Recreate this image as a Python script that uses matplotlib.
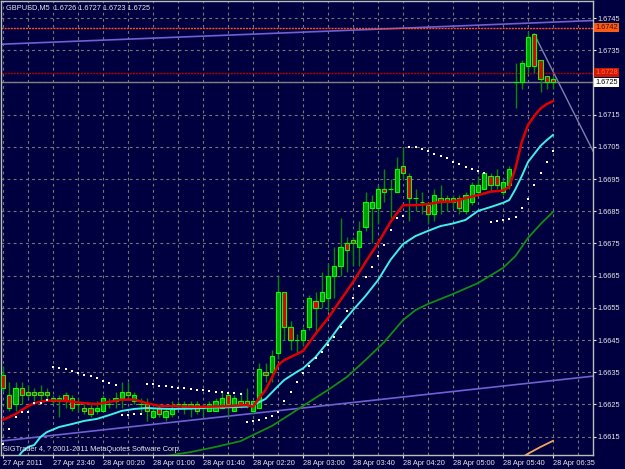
#!/usr/bin/env python3

import matplotlib
matplotlib.use('Agg')
import matplotlib.pyplot as plt
import numpy as np

# GBPUSD M5 bars (index 0 = 27 Apr 23:00)
opens = [1.6634, 1.6628, 1.6625, 1.6630, 1.6629, 1.6629, 1.6629, 1.6629, 1.6627, 1.6626,
         1.6628, 1.6627, 1.6625, 1.6624, 1.6624, 1.6623, 1.6623, 1.6625, 1.6626, 1.6627,
         1.6629, 1.6626, 1.6625, 1.6625, 1.6621, 1.6624, 1.6621, 1.6622, 1.6625, 1.6624,
         1.6625, 1.6625, 1.6624, 1.6623, 1.6623, 1.6624, 1.6628, 1.6623, 1.6626, 1.6626,
         1.6623, 1.6624, 1.6635, 1.6635, 1.6641, 1.6660, 1.6649, 1.6645, 1.6645, 1.6649,
         1.6657, 1.6657, 1.6658, 1.6665, 1.6668, 1.6675, 1.6676, 1.6674, 1.6680, 1.6686,
         1.6686, 1.6692, 1.6692, 1.6691, 1.6699, 1.6696, 1.6689, 1.6688, 1.6687, 1.6684,
         1.6689, 1.6689, 1.6689, 1.6689, 1.6685, 1.6688, 1.6691, 1.6692, 1.6696, 1.6696,
         1.6691, 1.6693, 1.6725, 1.6725, 1.6730, 1.6740, 1.6732, 1.6727, 1.6726]
highs = [1.6637, 1.6632, 1.6632, 1.6632, 1.6631, 1.6630, 1.6631, 1.6630, 1.6628, 1.6628,
         1.6629, 1.6628, 1.6627, 1.6625, 1.6625, 1.6626, 1.6628, 1.6627, 1.6629, 1.6632,
         1.6632, 1.6629, 1.6627, 1.6627, 1.6624, 1.6625, 1.6624, 1.6626, 1.6626, 1.6626,
         1.6626, 1.6626, 1.6625, 1.6626, 1.6627, 1.6629, 1.6629, 1.6628, 1.6629, 1.6630,
         1.6626, 1.6638, 1.6638, 1.6642, 1.6665, 1.6660, 1.6651, 1.6647, 1.6649, 1.6659,
         1.6660, 1.6666, 1.6669, 1.6674, 1.6683, 1.6677, 1.6677, 1.6682, 1.6691, 1.6690,
         1.6693, 1.6698, 1.6695, 1.6702, 1.6705, 1.6697, 1.6692, 1.6691, 1.6688, 1.6692,
         1.6693, 1.6690, 1.6690, 1.6690, 1.6691, 1.6694, 1.6696, 1.6697, 1.6697, 1.6698,
         1.6695, 1.6699, 1.6731, 1.6732, 1.6741, 1.6740, 1.6732, 1.6727, 1.6727]
lows = [1.6629, 1.6623, 1.6623, 1.6625, 1.6627, 1.6626, 1.6625, 1.6626, 1.6625, 1.6621,
        1.6624, 1.6623, 1.6623, 1.6622, 1.6621, 1.6622, 1.6623, 1.6624, 1.6624, 1.6624,
        1.6627, 1.6625, 1.6622, 1.6620, 1.6621, 1.6621, 1.6620, 1.6621, 1.6624, 1.6622,
        1.6621, 1.6622, 1.6621, 1.6623, 1.6623, 1.6624, 1.6621, 1.6623, 1.6624, 1.6624,
        1.6622, 1.6624, 1.6632, 1.6632, 1.6639, 1.6645, 1.6642, 1.6641, 1.6643, 1.6648,
        1.6647, 1.6655, 1.6654, 1.6658, 1.6665, 1.6666, 1.6668, 1.6668, 1.6679, 1.6675,
        1.6681, 1.6688, 1.6683, 1.6691, 1.6695, 1.6682, 1.6685, 1.6684, 1.6681, 1.6682,
        1.6684, 1.6685, 1.6686, 1.6684, 1.6684, 1.6687, 1.6690, 1.6692, 1.6691, 1.6692,
        1.6690, 1.6692, 1.6717, 1.6723, 1.6728, 1.6728, 1.6722, 1.6723, 1.6723]
closes = [1.6630, 1.6624, 1.6630, 1.6628, 1.6628, 1.6628, 1.6628, 1.6628, 1.6626, 1.6627,
          1.6626, 1.6624, 1.6625, 1.6623, 1.6622, 1.6624, 1.6627, 1.6625, 1.6627, 1.6629,
          1.6628, 1.6628, 1.6625, 1.6623, 1.6623, 1.6622, 1.6623, 1.6624, 1.6625, 1.6625,
          1.6624, 1.6623, 1.6624, 1.6625, 1.6626, 1.6627, 1.6625, 1.6627, 1.6625, 1.6625,
          1.6626, 1.6636, 1.6634, 1.6640, 1.6660, 1.6649, 1.6645, 1.6645, 1.6648, 1.6658,
          1.6655, 1.6660, 1.6665, 1.6668, 1.6674, 1.6673, 1.6675, 1.6679, 1.6688, 1.6688,
          1.6692, 1.6691, 1.6692, 1.6698, 1.6697, 1.6689, 1.6689, 1.6688, 1.6684, 1.6690,
          1.6688, 1.6688, 1.6688, 1.6686, 1.6690, 1.6693, 1.6693, 1.6697, 1.6693, 1.6693,
          1.6694, 1.6698, 1.6725, 1.6731, 1.6739, 1.6730, 1.6726, 1.6725, 1.6725]

# parabolic SAR, one dot per bar
sar = [1.66127, 1.66175, 1.66212, 1.66226, 1.66228, 1.66254, 1.66256, 1.66265, 1.66365, 1.66362,
       1.66359, 1.66354, 1.66349, 1.66343, 1.66338, 1.66331, 1.66324, 1.66317, 1.66310, 1.66217,
       1.66217, 1.66219, 1.66220, 1.66315, 1.66312, 1.66308, 1.66306, 1.66303, 1.66302, 1.66300,
       1.66298, 1.66296, 1.66294, 1.66292, 1.66290, 1.66288, 1.66286, 1.66285, 1.66284, 1.66195,
       1.66199, 1.66202, 1.66207, 1.66215, 1.66226, 1.66261, 1.66290, 1.66319, 1.66349, 1.66369,
       1.66393, 1.66412, 1.66435, 1.66458, 1.66490, 1.66540, 1.66581, 1.66618, 1.66647, 1.66676,
       1.66712, 1.66745, 1.66792, 1.66828, 1.66835, 1.67049, 1.67049, 1.67042, 1.67037, 1.67028,
       1.67022, 1.67014, 1.67004, 1.66996, 1.66988, 1.66981, 1.66976, 1.66970, 1.66817, 1.66820,
       1.66823, 1.66826, 1.66831, 1.66859, 1.66887, 1.66933, 1.66970, 1.67004, 1.67037]

# moving averages, read at selected bars
red_idx = [0, 2, 4, 5, 7, 9, 11, 13, 15, 17, 19, 21, 23, 25, 27, 30, 33, 36, 39, 40,
           41, 42, 43, 44, 45, 46, 48, 50, 52, 54, 56, 58, 60, 62, 64, 66, 68, 70, 72, 74,
           76, 78, 80, 81, 82, 83, 84, 85, 86, 87, 88]
red_ma = [1.66202, 1.66220, 1.66245, 1.66254, 1.66262, 1.66262, 1.66259, 1.66254, 1.66251, 1.66258,
          1.66265, 1.66265, 1.66254, 1.66245, 1.66245, 1.66243, 1.66243, 1.66245, 1.66248, 1.66243,
          1.66270, 1.66295, 1.66332, 1.66372, 1.66388, 1.66397, 1.66416, 1.66469, 1.66518, 1.66574,
          1.66630, 1.66692, 1.66751, 1.66817, 1.66869, 1.66869, 1.66872, 1.66879, 1.66880, 1.66891,
          1.66900, 1.66911, 1.66914, 1.66926, 1.66984, 1.67065, 1.67118, 1.67146, 1.67169, 1.67183,
          1.67192]

cyan_idx = [2, 3, 4, 5, 6, 7, 9, 11, 13, 15, 17, 19, 21, 23, 25, 27, 30, 33, 36, 39,
            40, 42, 44, 45, 47, 48, 50, 52, 54, 56, 58, 60, 62, 64, 66, 68, 70, 72, 74, 76,
            78, 80, 81, 82, 83, 84, 85, 86, 87, 88]
cyan_ma = [1.66075, 1.66102, 1.66118, 1.66124, 1.66149, 1.66164, 1.66180, 1.66189, 1.66199, 1.66205,
           1.66217, 1.66230, 1.66236, 1.66239, 1.66237, 1.66236, 1.66237, 1.66240, 1.66241, 1.66243,
           1.66248, 1.66267, 1.66307, 1.66326, 1.66351, 1.66362, 1.66397, 1.66444, 1.66497, 1.66543,
           1.66587, 1.66636, 1.66699, 1.66748, 1.66773, 1.66789, 1.66804, 1.66812, 1.66823, 1.66851,
           1.66863, 1.66876, 1.66885, 1.66919, 1.66959, 1.67003, 1.67028, 1.67053, 1.67071, 1.67087]

green_idx = [26, 30, 34, 38, 40, 43, 46, 49, 52, 55, 58, 61, 64, 66, 68, 72, 76, 80, 82, 84,
             86, 88]
green_ma = [1.66090, 1.66102, 1.66118, 1.66136, 1.66155, 1.66183, 1.66220, 1.66258, 1.66295, 1.66335,
            1.66388, 1.66444, 1.66512, 1.66543, 1.66562, 1.66593, 1.66627, 1.66674, 1.66711, 1.66767,
            1.66810, 1.66848]

orange_idx = [83, 84, 86, 88]
orange_ma = [1.66085, 1.66097, 1.66118, 1.66137]

# hand drawn objects
upper_trend_idx = [0, 94]
upper_trend = [1.67369, 1.67442]
lower_trend_idx = [0, 94]
lower_trend = [1.66137, 1.66337]
down_line_idx = [85, 95]
down_line = [1.67400, 1.67014]
level_orange = 1.6742
level_red = 1.6728
bid = 1.6725

price_ticks = [1.6745, 1.6735, 1.6725, 1.6715, 1.6705, 1.6695, 1.6685, 1.6675,
               1.6665, 1.6655, 1.6645, 1.6635, 1.6625, 1.6615]
time_ticks = [0, 8, 16, 24, 32, 40, 48, 56, 64, 72, 80, 88]
time_labels = ['27 Apr 2011', '27 Apr 23:40', '28 Apr 00:20', '28 Apr 01:00',
               '28 Apr 01:40', '28 Apr 02:20', '28 Apr 03:00', '28 Apr 03:40',
               '28 Apr 04:20', '28 Apr 05:00', '28 Apr 05:40', '28 Apr 06:35']

BG = '#000040'
FG = '#e6e6e6'
plt.rcParams['font.family'] = ['Liberation Sans', 'DejaVu Sans']

fig = plt.figure(figsize=(6.25, 4.69), dpi=100, facecolor=BG)
ax = fig.add_axes([1 / 625, 14 / 469, 592 / 625, 454 / 469], facecolor=BG)
ax.set_xlim(-0.32, 94.4)
ax.set_ylim(1.66093, 1.67503)

# grid
ax.set_xticks(time_ticks)
ax.set_xticks(np.arange(4, 95, 8), minor=True)
ax.set_yticks(price_ticks)
ax.grid(True, which='both', color='#777777', lw=0.8, ls=(0, (2.5, 3)))
ax.set_axisbelow(True)

# trend lines and levels
ax.axline((upper_trend_idx[0], upper_trend[0]), (upper_trend_idx[1], upper_trend[1]),
          color='#7060d0', lw=1.2, zorder=2)
ax.axline((lower_trend_idx[0], lower_trend[0]), (lower_trend_idx[1], lower_trend[1]),
          color='#7060d0', lw=1.2, zorder=2)
ax.plot(down_line_idx, down_line, color='#8080b0', lw=1.0, zorder=2)
ax.axhline(level_orange, color='#ff5020', lw=1.0, ls=(0, (1.5, 0.7)), zorder=2)
ax.axhline(level_red, color='#b00000', lw=1.0, ls=(0, (1.5, 0.7)), zorder=2)
ax.axhline(bid, color='#808080', lw=1.0, zorder=2)

# candles
x = np.arange(len(opens))
o = np.array(opens)
c = np.array(closes)
up = c >= o
ax.vlines(x, lows, highs, color='#008c00', lw=1.0, zorder=3)
ax.bar(x, np.abs(c - o), bottom=np.minimum(o, c), width=0.68,
       color=np.where(up, '#00a000', '#e00000'), edgecolor='#00ff00', lw=0.8, zorder=4)

# indicators
ax.plot(green_idx, green_ma, color='#108c10', lw=1.3, zorder=5)
ax.plot(orange_idx, orange_ma, color='#f4a460', lw=1.3, zorder=5)
ax.plot(cyan_idx, cyan_ma, color='#40f0e8', lw=1.4, zorder=5)
ax.plot(red_idx, red_ma, color='#e00000', lw=1.8, zorder=6)
ax.plot(x, sar, 's', color='white', ms=1.9, mew=0, zorder=7)

# axes styling
for side in ['left', 'top', 'right', 'bottom']:
    ax.spines[side].set_color('#b8c0b8')
    ax.spines[side].set_linewidth(1.0)
ax.yaxis.tick_right()
# the bid box covers the 1.6725 label, so leave that one empty
ax.set_yticklabels(['' if p == bid else '%.4f' % p for p in price_ticks])
ax.set_xticklabels(time_labels, ha='left')
ax.tick_params(axis='both', which='major', colors=FG, labelsize=5.3, length=2, width=0.8,
               pad=1.5)
ax.tick_params(axis='x', which='minor', length=0)

yt = ax.get_yaxis_transform()
ax.text(1.004, level_orange, '%.4f' % level_orange, transform=yt, va='center', ha='left',
        fontsize=5.3, color='#3a1000', zorder=10,
        bbox=dict(boxstyle='square,pad=0.15', fc='#ff5a14', ec='none'))
ax.text(1.004, level_red, '%.4f' % level_red, transform=yt, va='center', ha='left',
        fontsize=5.3, color='#ff6a4a', zorder=10,
        bbox=dict(boxstyle='square,pad=0.15', fc='#d01800', ec='none'))
ax.text(1.004, bid, '%.4f' % bid, transform=yt, va='center', ha='left',
        fontsize=5.3, color='#000000', zorder=10,
        bbox=dict(boxstyle='square,pad=0.15', fc='#ffffff', ec='none'))

ax.text(0.009, 0.985, 'GBPUSD,M5  %.4f %.4f %.4f %.4f' % (opens[-1], highs[-1], lows[-1], closes[-1]),
        transform=ax.transAxes, va='center', ha='left', fontsize=5.3, color=FG, zorder=10)
ax.text(0.004, 0.013, 'SIGTrader 4, ? 2001-2011 MetaQuotes Software Corp.',
        transform=ax.transAxes, va='center', ha='left', fontsize=5.3, color=FG, zorder=10)

fig.savefig('out.png', dpi=100, facecolor=BG)
